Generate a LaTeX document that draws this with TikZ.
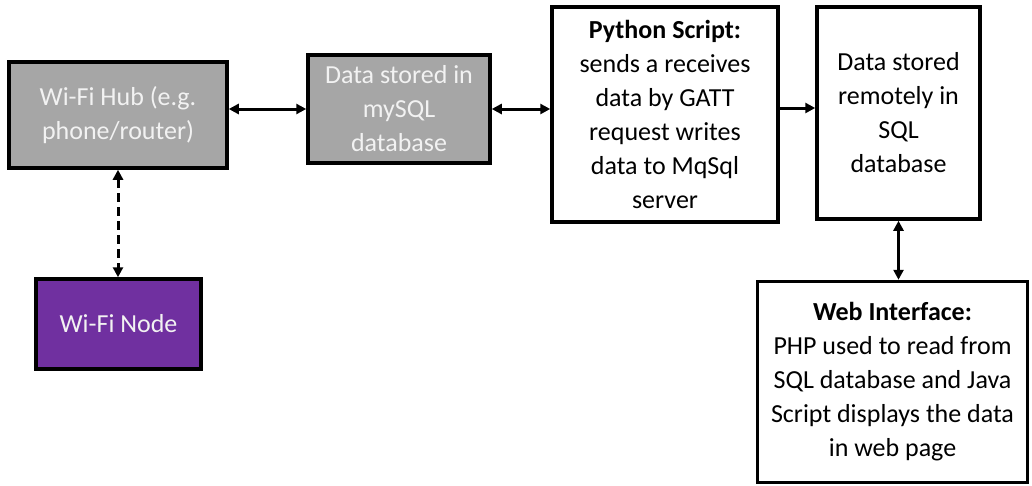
\documentclass[tikz,border=0pt]{standalone}
\usepackage{fontspec}
\setmainfont{Carlito}
\usetikzlibrary{arrows.meta}
\definecolor{boxgray}{HTML}{A6A6A6}
\definecolor{nodepurple}{HTML}{7030A0}
\definecolor{lighttext}{HTML}{F2F2F2}
\begin{document}
\begin{tikzpicture}[x=1pt,y=-1pt,
  box/.style={draw=black, line width=3.5pt, rectangle, align=center, inner sep=0pt,
    font=\fontsize{26}{34}\selectfont},
  graybox/.style={box, fill=boxgray, text=lighttext},
  purplebox/.style={box, fill=nodepurple, text=lighttext},
  whitebox/.style={box, fill=white, text=black},
  conn/.style={line width=3pt, {Triangle[length=10pt,width=10pt]}-{Triangle[length=10pt,width=10pt]}},
  oneway/.style={line width=3pt, -{Triangle[length=10pt,width=10pt]}}
]
\useasboundingbox (0,0) rectangle (1032,485);
\node[graybox, minimum width=218pt, minimum height=106pt] (hub) at (118,115) {Wi-Fi Hub (e.g.\\phone/router)};
\node[graybox, minimum width=182pt, minimum height=108pt] (mysql) at (399,109) {Data stored in\\mySQL\\database};
\node[whitebox, minimum width=226pt, minimum height=215pt] (py) at (665,114.5) {\textbf{Python Script:}\\sends a receives\\data by GATT\\request writes\\data to MqSql\\server};
\node[whitebox, minimum width=163pt, minimum height=212pt] (sql) at (898.5,113) {Data stored\\remotely in\\SQL\\database};
\node[whitebox, minimum width=270pt, minimum height=201pt] (web) at (892.5,382) {\textbf{Web Interface:}\\PHP used to read from\\SQL database and Java\\Script displays the data\\in web page};
\node[purplebox, minimum width=165pt, minimum height=90pt] (wnode) at (118.5,324) {Wi-Fi Node};

\draw[conn] (hub.east |- mysql.west) -- (mysql.west);
\draw[conn] (mysql.east) -- (py.west |- mysql.east);
\coordinate (pyout) at ([yshift=6.5pt]py.east);
\draw[oneway] (pyout) -- (sql.west |- pyout);
\draw[conn] (sql.south) -- (web.north -| sql.south);
\draw[conn, dash pattern=on 9pt off 5pt] (hub.south) -- (wnode.north -| hub.south);
\end{tikzpicture}
\end{document}
